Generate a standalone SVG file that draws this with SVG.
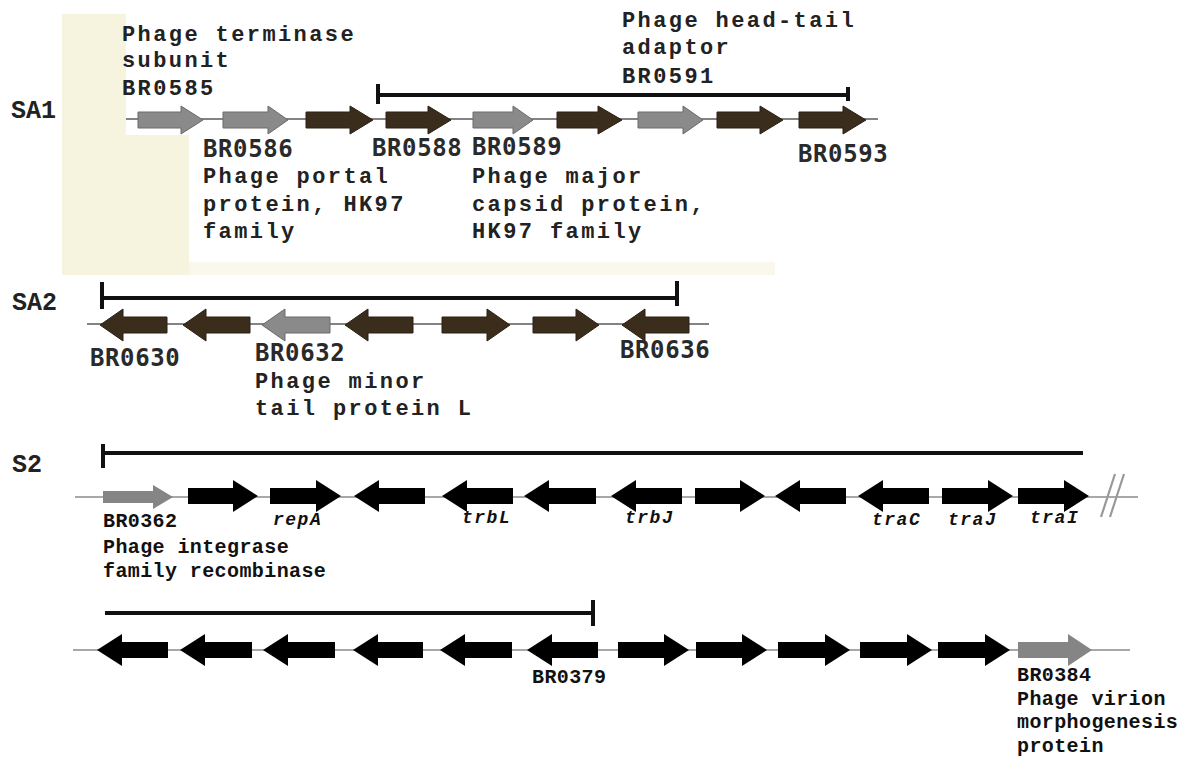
<svg xmlns="http://www.w3.org/2000/svg" width="1193" height="759" viewBox="0 0 1193 759">
<style>
.dark{fill:#3a2d1c;stroke:#2a2014;stroke-width:1}
.gray{fill:#8a8a8a;stroke:#6a6a6a;stroke-width:1}
.blk{fill:#000}
.gray2{fill:#858585}
.bb1{stroke:#5a5a5a;stroke-width:1.6;fill:none}
.bb2{stroke:#a8a8a8;stroke-width:2;fill:none}
.br{stroke:#111;stroke-width:4;fill:none}
.lbl{font-family:"Liberation Mono",monospace;font-weight:bold;font-size:25px;fill:#222}
.desc{font-family:"Liberation Mono",monospace;font-weight:bold;font-size:22px;letter-spacing:2.4px;fill:#222}
.id{font-family:"DejaVu Sans Mono","Liberation Mono",monospace;font-weight:bold;font-size:24px;letter-spacing:0.6px;fill:#2a2a2a}
.sm{font-family:"Liberation Mono",monospace;font-weight:bold;font-size:20px;letter-spacing:0.4px;fill:#111}
.gn{font-family:"Liberation Mono",monospace;font-weight:bold;font-style:italic;font-size:18px;letter-spacing:1.5px;fill:#111}
</style>
<g id="background">
<rect x="62" y="14" width="713" height="261" fill="#f6f3df"/>
<rect x="189" y="262" width="586" height="13" fill="#faf8ec"/>
<rect x="126" y="14" width="649" height="121" fill="#fff"/>
<rect x="189" y="14" width="586" height="248" fill="#fff"/>
</g>
<g id="connectors">
<line class="bb1" x1="126" y1="119" x2="878" y2="119"/>
<line class="bb1" x1="87" y1="324" x2="709" y2="324"/>
<line class="bb2" x1="75" y1="497" x2="1138" y2="497"/>
<line class="bb2" x1="73" y1="650" x2="1130" y2="650"/>
<path class="br" d="M378 95H848M378 84V104M848 87V101"/>
<path class="br" d="M102 298H677M102 282V309M677 281V306"/>
<path class="br" d="M103 453H1083M103 444V468"/>
<path class="br" d="M105 613H593M593 600V626"/>
<path d="M1101 517L1115 474M1110 517L1124 474" stroke="#999" stroke-width="2.2" fill="none"/>
</g>
<g id="SA1">
<text class="lbl" x="11" y="118">SA1</text>
<polygon class="gray" points="138,112 181,112 181,106 203,120 181,134 181,128 138,128"/>
<polygon class="gray" points="223,112 268,112 268,106 288,120 268,134 268,128 223,128"/>
<polygon class="dark" points="306,112 350,112 350,106 373,120 350,134 350,128 306,128"/>
<polygon class="dark" points="386,112 428,112 428,106 451,120 428,134 428,128 386,128"/>
<polygon class="gray" points="473,112 513,112 513,106 533,120 513,134 513,128 473,128"/>
<polygon class="dark" points="557,112 598,112 598,106 622,120 598,134 598,128 557,128"/>
<polygon class="gray" points="638,112 683,112 683,106 703,120 683,134 683,128 638,128"/>
<polygon class="dark" points="717,112 760,112 760,106 783,120 760,134 760,128 717,128"/>
<polygon class="dark" points="799,112 843,112 843,106 866,120 843,134 843,128 799,128"/>
<text class="desc" x="122" y="41">Phage terminase</text>
<text class="desc" x="122" y="67">subunit</text>
<text class="desc" x="122" y="95">BR0585</text>
<text class="id" x="203" y="157">BR0586</text>
<text class="desc" x="203" y="183">Phage portal</text>
<text class="desc" x="203" y="211">protein, HK97</text>
<text class="desc" x="203" y="238">family</text>
<text class="id" x="372" y="156">BR0588</text>
<text class="desc" x="622" y="27">Phage head-tail</text>
<text class="desc" x="622" y="54">adaptor</text>
<text class="desc" x="622" y="83">BR0591</text>
<text class="id" x="472" y="155">BR0589</text>
<text class="desc" x="472" y="183">Phage major</text>
<text class="desc" x="472" y="211">capsid protein,</text>
<text class="desc" x="472" y="238">HK97 family</text>
<text class="id" x="798" y="162">BR0593</text>
</g>
<g id="SA2">
<text class="lbl" x="12" y="310">SA2</text>
<polygon class="dark" points="100,325 123,309 123,317 167,317 167,333 123,333 123,341"/>
<polygon class="dark" points="183,325 206,309 206,317 250,317 250,333 206,333 206,341"/>
<polygon class="gray" points="262,325 285,309 285,317 330,317 330,333 285,333 285,341"/>
<polygon class="dark" points="345,325 368,309 368,317 413,317 413,333 368,333 368,341"/>
<polygon class="dark" points="442,317 487,317 487,309 510,325 487,341 487,333 442,333"/>
<polygon class="dark" points="533,317 576,317 576,309 599,325 576,341 576,333 533,333"/>
<polygon class="dark" points="622,325 645,309 645,317 689,317 689,333 645,333 645,341"/>
<text class="id" x="90" y="366">BR0630</text>
<text class="id" x="255" y="361">BR0632</text>
<text class="desc" x="255" y="388">Phage minor</text>
<text class="desc" x="255" y="415">tail protein L</text>
<text class="id" x="620" y="358">BR0636</text>
</g>
<g id="S2">
<text class="lbl" x="12" y="472">S2</text>
<polygon class="gray2" points="103,491 153,491 153,485 173,497 153,509 153,503 103,503"/>
<polygon class="blk" points="188,488 233,488 233,480 258,496 233,512 233,504 188,504"/>
<polygon class="blk" points="270,488 316,488 316,480 341,496 316,512 316,504 270,504"/>
<polygon class="blk" points="354,496 379,480 379,488 425,488 425,504 379,504 379,512"/>
<polygon class="blk" points="442,496 467,480 467,488 513,488 513,504 467,504 467,512"/>
<polygon class="blk" points="524,496 549,480 549,488 596,488 596,504 549,504 549,512"/>
<polygon class="blk" points="611,496 636,480 636,488 682,488 682,504 636,504 636,512"/>
<polygon class="blk" points="695,488 740,488 740,480 765,496 740,512 740,504 695,504"/>
<polygon class="blk" points="775,496 800,480 800,488 846,488 846,504 800,504 800,512"/>
<polygon class="blk" points="858,496 883,480 883,488 929,488 929,504 883,504 883,512"/>
<polygon class="blk" points="942,488 988,488 988,480 1013,496 988,512 988,504 942,504"/>
<polygon class="blk" points="1018,488 1064,488 1064,480 1089,496 1064,512 1064,504 1018,504"/>
<text class="sm" x="103" y="527">BR0362</text>
<text class="sm" x="103" y="553">Phage integrase</text>
<text class="sm" x="103" y="577">family recombinase</text>
<text class="gn" x="273" y="525">repA</text>
<text class="gn" x="462" y="523">trbL</text>
<text class="gn" x="625" y="523">trbJ</text>
<text class="gn" x="872" y="525">traC</text>
<text class="gn" x="948" y="525">traJ</text>
<text class="gn" x="1030" y="523">traI</text>
</g>
<g id="S2-cont">
<polygon class="blk" points="97,650 122,634 122,642 168,642 168,658 122,658 122,666"/>
<polygon class="blk" points="180,650 205,634 205,642 252,642 252,658 205,658 205,666"/>
<polygon class="blk" points="263,650 288,634 288,642 335,642 335,658 288,658 288,666"/>
<polygon class="blk" points="353,650 378,634 378,642 423,642 423,658 378,658 378,666"/>
<polygon class="blk" points="440,650 465,634 465,642 512,642 512,658 465,658 465,666"/>
<polygon class="blk" points="527,650 552,634 552,642 598,642 598,658 552,658 552,666"/>
<polygon class="blk" points="618,642 664,642 664,634 689,650 664,666 664,658 618,658"/>
<polygon class="blk" points="696,642 742,642 742,634 767,650 742,666 742,658 696,658"/>
<polygon class="blk" points="778,642 825,642 825,634 850,650 825,666 825,658 778,658"/>
<polygon class="blk" points="860,642 907,642 907,634 932,650 907,666 907,658 860,658"/>
<polygon class="blk" points="938,642 985,642 985,634 1010,650 985,666 985,658 938,658"/>
<polygon class="gray2" points="1018,642 1068,642 1068,634 1092,650 1068,666 1068,658 1018,658"/>
<text class="sm" x="532" y="683">BR0379</text>
<text class="sm" x="1017" y="681">BR0384</text>
<text class="sm" x="1017" y="705">Phage virion</text>
<text class="sm" x="1017" y="728">morphogenesis</text>
<text class="sm" x="1017" y="752">protein</text>
</g>
</svg>
